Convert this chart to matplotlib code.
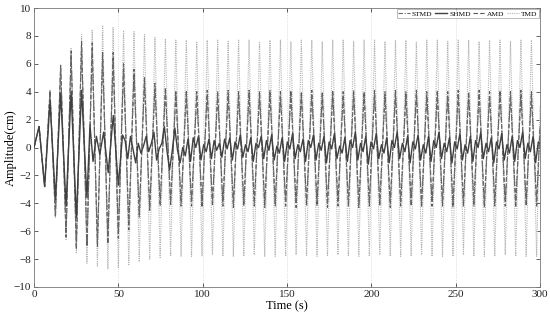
import matplotlib
matplotlib.use("Agg")
import matplotlib.pyplot as plt

plt.rcParams['font.family'] = ['Liberation Serif', 'DejaVu Serif']

# shared extreme times (s) for TMD / AMD / STMD
t_ext = [0, 3.0, 6.3, 9.5, 12.7, 15.8, 19.0, 22.0, 25.1, 28.2,
         31.4, 34.5, 37.6, 40.7, 43.8, 46.9, 50.0, 53.1, 56.2, 59.3,
         62.4, 65.5, 68.6, 71.7, 74.8, 77.9, 81.0, 84.1, 87.2, 90.3,
         93.4, 96.5, 99.6, 102.7, 105.8, 108.9, 112.0, 115.1, 118.2, 121.3,
         124.4, 127.5, 130.6, 133.7, 136.8, 139.9, 143.0, 146.1, 149.2, 152.3,
         155.4, 158.5, 161.6, 164.7, 167.8, 170.9, 174.0, 177.1, 180.2, 183.3,
         186.4, 189.5, 192.6, 195.7, 198.8, 201.9, 205.0, 208.1, 211.2, 214.3,
         217.4, 220.5, 223.6, 226.7, 229.8, 232.9, 236.0, 239.1, 242.2, 245.3,
         248.4, 251.5, 254.6, 257.7, 260.8, 263.9, 267.0, 270.1, 273.2, 276.3,
         279.4, 282.5, 285.6, 288.7, 291.8, 294.9, 298.0, 300.0]

tmd = [0, 1.5, -2.8, 4.1, -5.0, 5.9, -6.6, 7.1, -7.6, 8.1,
       -8.3, 8.4, -8.5, 8.7, -8.7, 8.6, -8.6, 8.4, -8.4, 8.3,
       -8.2, 8.1, -8.0, 7.9, -7.9, 7.8, -7.8, 7.7, -7.8, 7.7,
       -7.8, 7.6, -7.8, 7.7, -7.7, 7.7, -7.8, 7.6, -7.8, 7.7,
       -7.8, 7.7, -7.7, 7.6, -7.8, 7.7, -7.8, 7.7, -7.8, 7.6,
       -7.7, 7.7, -7.8, 7.7, -7.8, 7.6, -7.8, 7.7, -7.7, 7.7,
       -7.8, 7.6, -7.8, 7.7, -7.8, 7.7, -7.7, 7.6, -7.8, 7.7,
       -7.8, 7.7, -7.8, 7.6, -7.7, 7.7, -7.8, 7.7, -7.8, 7.6,
       -7.8, 7.7, -7.7, 7.7, -7.8, 7.6, -7.8, 7.7, -7.8, 7.7,
       -7.7, 7.6, -7.8, 7.7, -7.8, 7.7, -7.8, 3.0]

amd = [0, 1.5, -2.8, 4.1, -5.0, 5.9, -6.4, 6.9, -7.3, 7.6,
       -7.1, 7.5, -7.1, 6.8, -6.9, 6.8, -6.5, 6.0, -5.9, 5.6,
       -5.0, 5.0, -4.5, 4.6, -4.2, 4.3, -4.1, 4.0, -4.2, 4.1,
       -4.2, 4.0, -4.3, 4.1, -4.2, 4.0, -4.2, 4.1, -4.3, 4.0,
       -4.2, 4.1, -4.2, 4.0, -4.3, 4.1, -4.2, 4.0, -4.2, 4.1,
       -4.3, 4.0, -4.2, 4.1, -4.2, 4.0, -4.3, 4.1, -4.2, 4.0,
       -4.2, 4.1, -4.3, 4.0, -4.2, 4.1, -4.2, 4.0, -4.3, 4.1,
       -4.2, 4.0, -4.2, 4.1, -4.3, 4.0, -4.2, 4.1, -4.2, 4.0,
       -4.3, 4.1, -4.2, 4.0, -4.2, 4.1, -4.3, 4.0, -4.2, 4.1,
       -4.2, 4.0, -4.3, 4.1, -4.2, 4.0, -4.2, 1.5]

stmd = [0, 1.5, -2.8, 4.0, -4.9, 5.7, -6.1, 6.6, -7.0, 7.2,
        -6.9, 6.8, -6.7, 6.3, -6.4, 6.2, -6.0, 5.5, -5.4, 5.0,
        -4.7, 4.6, -4.3, 4.2, -4.0, 4.0, -3.9, 3.8, -3.9, 3.7,
        -3.9, 3.7, -4.0, 3.8, -3.9, 3.7, -3.9, 3.8, -4.0, 3.7,
        -3.9, 3.8, -3.9, 3.7, -4.0, 3.8, -3.9, 3.7, -3.9, 3.8,
        -4.0, 3.7, -3.9, 3.8, -3.9, 3.7, -4.0, 3.8, -3.9, 3.7,
        -3.9, 3.8, -4.0, 3.7, -3.9, 3.8, -3.9, 3.7, -4.0, 3.8,
        -3.9, 3.7, -3.9, 3.8, -4.0, 3.7, -3.9, 3.8, -3.9, 3.7,
        -4.0, 3.8, -3.9, 3.7, -3.9, 3.8, -4.0, 3.7, -3.9, 3.8,
        -3.9, 3.7, -4.0, 3.8, -3.9, 3.7, -3.9, 1.4]

# SHMD has its own, finer set of turning points
t_shmd = [0, 3.0, 6.3, 9.5, 12.7, 15.8, 19.0, 22.0, 25.1, 28.2,
          31.4, 33.2, 35.0, 37.0, 39.0, 41.3, 44.0, 47.0, 50.0,
          52.5, 54.0, 55.6, 57.2, 58.7, 60.3, 61.8, 63.4, 64.9, 66.5,
          68.0, 69.6, 71.1, 72.7, 74.2, 75.8, 77.3, 78.9, 80.4, 82.0,
          83.5, 85.1, 86.6, 88.2, 89.7, 91.3, 92.8, 94.4, 95.9, 97.5,
          99.0, 100.6, 102.1, 103.7, 105.2, 106.8, 108.3, 109.9, 111.4, 113.0,
          114.5, 116.1, 117.6, 119.2, 120.7, 122.3, 123.8, 125.4, 126.9, 128.5,
          130.0, 131.6, 133.1, 134.7, 136.2, 137.8, 139.3, 140.9, 142.4, 144.0,
          145.5, 147.1, 148.6, 150.2, 151.7, 153.3, 154.8, 156.4, 157.9, 159.5,
          161.0, 162.6, 164.1, 165.7, 167.2, 168.8, 170.3, 171.9, 173.4, 175.0,
          176.5, 178.1, 179.6, 181.2, 182.7, 184.3, 185.8, 187.4, 188.9, 190.5,
          192.0, 193.6, 195.1, 196.7, 198.2, 199.8, 201.3, 202.9, 204.4, 206.0,
          207.5, 209.1, 210.6, 212.2, 213.7, 215.3, 216.8, 218.4, 219.9, 221.5,
          223.0, 224.6, 226.1, 227.7, 229.2, 230.8, 232.3, 233.9, 235.4, 237.0,
          238.5, 240.1, 241.6, 243.2, 244.7, 246.3, 247.8, 249.4, 250.9, 252.5,
          254.0, 255.6, 257.1, 258.7, 260.2, 261.8, 263.3, 264.9, 266.4, 268.0,
          269.5, 271.1, 272.6, 274.2, 275.7, 277.3, 278.8, 280.4, 281.9, 283.5,
          285.0, 286.6, 288.1, 289.7, 291.2, 292.8, 294.3, 295.9, 297.4, 299.0,
          300.0]

shmd = [0, 1.5, -2.8, 3.3, -3.7, 3.9, -4.2, 4.0, -5.0, 4.1,
        -3.6, 1.6, -1.0, 0.8, -0.5, 1.1, -1.8, 2.3, -2.7,
        0.9, 0.5, -0.8, 0.8, -0.1, -1.1, 0.3, -0.4, 0.1, 0.8,
        -0.3, 0.3, 1.1, -0.9, -0.1, 0.3, 1.5, -0.3, -1.6, -0.2,
        1.4, -0.2, -1.1, 0.0, -0.6, 0.6, -1.0, 0.7, 0.0, 0.8,
        -0.9, 0.2, -0.3, 0.6, -0.8, 0.5, -0.2, 0.3, -0.7, 0.6,
        -0.1, 0.7, -0.9, 0.4, -0.1, 0.9, -0.7, 0.2, -0.3, 0.7,
        -1.0, 0.3, 0.0, 0.8, -0.8, 0.5, -0.2, 0.9, -0.9, 0.1,
        -0.4, 0.7, -1.0, 0.4, -0.1, 1.0, -0.8, 0.2, -0.3, 0.6,
        -1.0, 0.5, 0.0, 0.9, -0.9, 0.3, -0.2, 0.8, -1.1, 0.4,
        -0.1, 1.0, -0.8, 0.1, -0.4, 0.7, -1.0, 0.5, 0.0, 1.1,
        -0.9, 0.3, -0.3, 0.8, -1.2, 0.4, -0.1, 1.0, -0.8, 0.2,
        -0.4, 0.7, -1.1, 0.5, 0.0, 1.1, -0.8, 0.3, -0.3, 0.8,
        -1.1, 0.4, -0.1, 0.9, -0.9, 0.2, -0.4, 0.8, -1.0, 0.5,
        0.0, 1.1, -0.8, 0.3, -0.3, 0.7, -1.1, 0.4, -0.1, 1.0,
        -0.9, 0.2, -0.4, 0.8, -1.0, 0.5, 0.0, 1.1, -0.8, 0.3,
        -0.3, 0.7, -1.1, 0.4, -0.1, 1.0, -0.9, 0.2, -0.4, 0.8,
        -1.0, 0.5, 0.0, 1.1, -0.8, 0.3, -0.3, 0.8, -1.1, 0.4,
        0.3]

x_ticks = [0, 50, 100, 150, 200, 250, 300]
y_ticks = [-10, -8, -6, -4, -2, 0, 2, 4, 6, 8, 10]

fig = plt.figure(figsize=(5.5, 3.21), dpi=100)
ax = fig.add_axes([34 / 550, 1 - 287 / 321, 506 / 550, 279 / 321])

ax.plot(t_ext, tmd, color='#b4b4b4', lw=0.8, ls=(0, (1, 1)), label='TMD', zorder=2)
ax.plot(t_ext, amd, color='#5a5a5a', lw=0.8, ls=(0, (4, 2)), label='AMD', zorder=3)
ax.plot(t_ext, stmd, color='#6a6a6a', lw=0.8, ls=(0, (4, 1.5, 1, 1.5)), label='STMD', zorder=3)
ax.plot(t_shmd, shmd, color='#404040', lw=1.0, ls='-', label='SHMD', zorder=4)

ax.set_xlim(0, 300)
ax.set_ylim(-10, 10)
ax.set_xticks(x_ticks)
ax.set_yticks(y_ticks)
ax.grid(axis='x', color='#d0d0d0', lw=0.6, ls=':')
ax.tick_params(direction='in', top=True, right=True, length=3, width=0.5,
               labelsize=8, colors='#222222', pad=2)
for s in ax.spines.values():
    s.set_color('#777777')
    s.set_linewidth(0.6)

ax.set_xlabel('Time (s)', fontsize=9, labelpad=1)
ax.set_ylabel('Amplitude(cm)', fontsize=9)
ax.yaxis.set_label_coords(-17 / 506, 0.5)

h, l = ax.get_legend_handles_labels()
order = [l.index(n) for n in ['STMD', 'SHMD', 'AMD', 'TMD']]
leg = ax.legend([h[i] for i in order], [l[i] for i in order], loc='upper right',
                ncol=4, fontsize=5.3, frameon=True, fancybox=False,
                edgecolor='#888888', borderaxespad=0.15, handlelength=1.6,
                handletextpad=0.25, columnspacing=0.4, borderpad=0.2)
leg.get_frame().set_linewidth(0.5)

fig.savefig('out.png', dpi=100)
